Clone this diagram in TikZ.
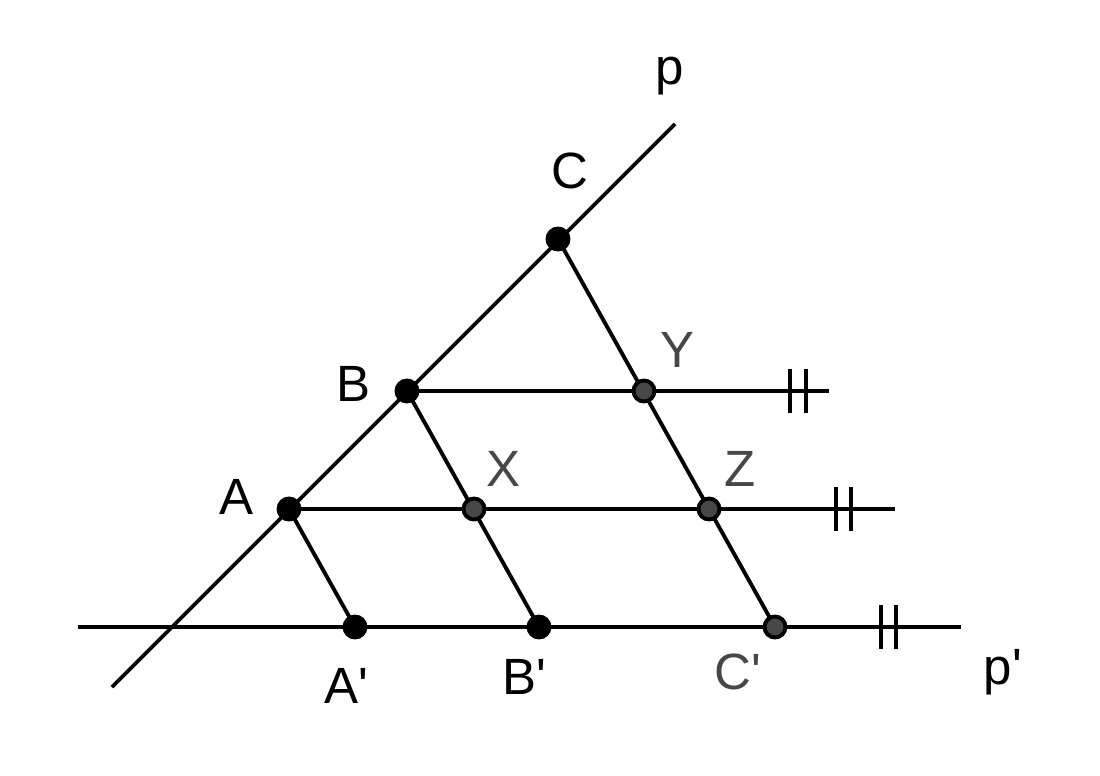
\documentclass[tikz,border=0pt]{standalone}
\usepackage{fontspec}
\setmainfont{Liberation Sans}
\usetikzlibrary{calc}

\begin{document}
\begin{tikzpicture}[x=0.01cm,y=-0.01cm, line width=1.1pt, font=\fontsize{14.5}{17}\selectfont,
    pt/.style={circle, draw=black, fill=black, line width=1.1pt, inner sep=0pt, minimum size=0.21cm},
    ptg/.style={pt, fill=black!72},
    lbl/.style={inner sep=0pt},
    lblg/.style={lbl, text=black!72}]
      \useasboundingbox (0,0) rectangle (1100,776);

      % ends of the lines
      \coordinate (p1) at (112,687);
      \coordinate (p2) at (675,124);
      \coordinate (q1) at (78,627);
      \coordinate (q2) at (961,627);
      \coordinate (hB) at (829,391);
      \coordinate (hA) at (895,509);

      % lines
      \draw (p1) -- (p2);
      \draw (q1) -- (q2);
      \draw (407,391) coordinate (B) -- (hB);
      \draw (289,509) coordinate (A) -- (hA);
      \draw (558,239) coordinate (C) -- (775,627) coordinate (C');
      \draw (B) -- (539,627) coordinate (B');
      \draw (A) -- (355,627) coordinate (A');

      % parallel marks
      \foreach \x/\y in {790/391, 806/391, 836/509, 851/509, 881/627, 896/627}
        \draw ($(\x,\y)+(0,-22)$) -- ($(\x,\y)+(0,22)$);

      % points
      \node[pt] (nA) at (A) {};
      \node[pt] (nB) at (B) {};
      \node[pt] (nC) at (C) {};
      \node[pt] (nA') at (A') {};
      \node[pt] (nB') at (B') {};
      \node[ptg] (nC') at (C') {};
      \node[ptg] (nX) at (474,509) {};
      \node[ptg] (nY) at (644,391) {};
      \node[ptg] (nZ) at (709,509) {};

      % labels
      \node[lbl] (lp) at (670,76) {p};
      \node[lbl] (lC) at (570,171) {C};
      \node[lbl] (lB) at (354,384) {B};
      \node[lbl] (lA) at (237,497) {A};
      \node[lblg] (lY) at (677,350) {Y};
      \node[lblg] (lX) at (503,469) {X};
      \node[lblg] (lZ) at (740,469) {Z};
      \node[lbl] (lA') at (346,686) {A\textquotesingle};
      \node[lbl] (lB') at (524,677) {B\textquotesingle};
      \node[lblg] (lC') at (738,672) {C\textquotesingle};
      \node[lbl] (lq) at (1003,672) {p\textquotesingle};
    \end{tikzpicture}
\end{document}
